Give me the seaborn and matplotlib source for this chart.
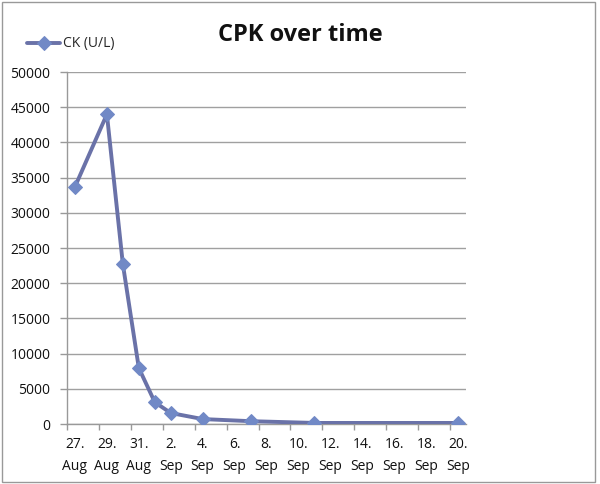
import matplotlib
matplotlib.use("Agg")
import matplotlib.pyplot as plt
import matplotlib.dates as mdates
import seaborn as sns
import pandas as pd
import numpy as np
from matplotlib.patches import Rectangle

dates = ["2023-08-27", "2023-08-29", "2023-08-30", "2023-08-31", "2023-09-01",
         "2023-09-02", "2023-09-04", "2023-09-07", "2023-09-11", "2023-09-20"]
ck_values = [33700, 44000, 22700, 7950, 3100, 1560, 700, 400, 150, 150]
tick_dates = ["2023-08-27", "2023-08-29", "2023-08-31", "2023-09-02", "2023-09-04",
              "2023-09-06", "2023-09-08", "2023-09-10", "2023-09-12", "2023-09-14",
              "2023-09-16", "2023-09-18", "2023-09-20"]
tick_labels = ["27.\nAug", "29.\nAug", "31.\nAug", "2.\nSep", "4.\nSep", "6.\nSep",
               "8.\nSep", "10.\nSep", "12.\nSep", "14.\nSep", "16.\nSep", "18.\nSep", "20.\nSep"]
y_ticks = [0, 5000, 10000, 15000, 20000, 25000, 30000, 35000, 40000, 45000, 50000]

sns.set_theme(style="white")
plt.rcParams['font.family'] = ['Open Sans', 'DejaVu Sans']

df = pd.DataFrame({"date": pd.to_datetime(dates), "CK (U/L)": ck_values})

fig = plt.figure(figsize=(6.0, 4.84), dpi=100)
ax = fig.add_axes([67/600, 1-424/484, (466-67)/600, (424-72)/484])

line_color = "#6A72A8"
marker_color = "#7189C6"
sns.lineplot(data=df, x="date", y="CK (U/L)", ax=ax, color=line_color, linewidth=2.8,
             marker="D", markersize=7, markerfacecolor=marker_color,
             markeredgecolor=marker_color, label="CK (U/L)", zorder=3)

tdates = pd.to_datetime(tick_dates)
ax.set_xlim(mdates.date2num(pd.Timestamp("2023-08-26 12:00")),
            mdates.date2num(pd.Timestamp("2023-09-20 12:00")))
ax.set_xticks(mdates.date2num(tdates))
ax.set_xticklabels(tick_labels, fontsize=10, color="#111111", linespacing=1.7)
minor = [mdates.date2num(d - pd.Timedelta(hours=12)) for d in tdates]
ax.set_xticks(minor, minor=True)
ax.tick_params(axis="x", which="major", length=0, pad=9)
ax.tick_params(axis="x", which="minor", length=4, width=1, color="#999999", direction="out", bottom=True)

ax.set_ylim(0, 50000)
ax.set_yticks(y_ticks)
ax.set_yticklabels([str(v) for v in y_ticks], fontsize=10, color="#111111")
ax.tick_params(axis="y", length=5, width=1, color="#999999", direction="out", left=True, pad=7)

ax.grid(axis="y", color="#a0a0a0", linewidth=1)
ax.grid(axis="x", visible=False)
for s in ["top", "right"]:
    ax.spines[s].set_visible(False)
for s in ["left", "bottom"]:
    ax.spines[s].set_color("#999999")
    ax.spines[s].set_linewidth(1)
ax.set_xlabel("")
ax.set_ylabel("")

leg = ax.legend(loc="center left", bbox_to_anchor=(27/600, 1-44/484), bbox_transform=fig.transFigure,
                frameon=False, fontsize=10, handlelength=2.4, handletextpad=0.2, borderaxespad=0,
                borderpad=0)

fig.text(0.5, 1-35/484, "CPK over time", ha="center", va="center", fontsize=17,
         fontweight="bold", color="#111111")

fig.patches.append(Rectangle((2/600, 2/484), 593/600, 480/484, transform=fig.transFigure,
                             fill=False, edgecolor="#999999", linewidth=1))

fig.savefig("out.png", dpi=100)
